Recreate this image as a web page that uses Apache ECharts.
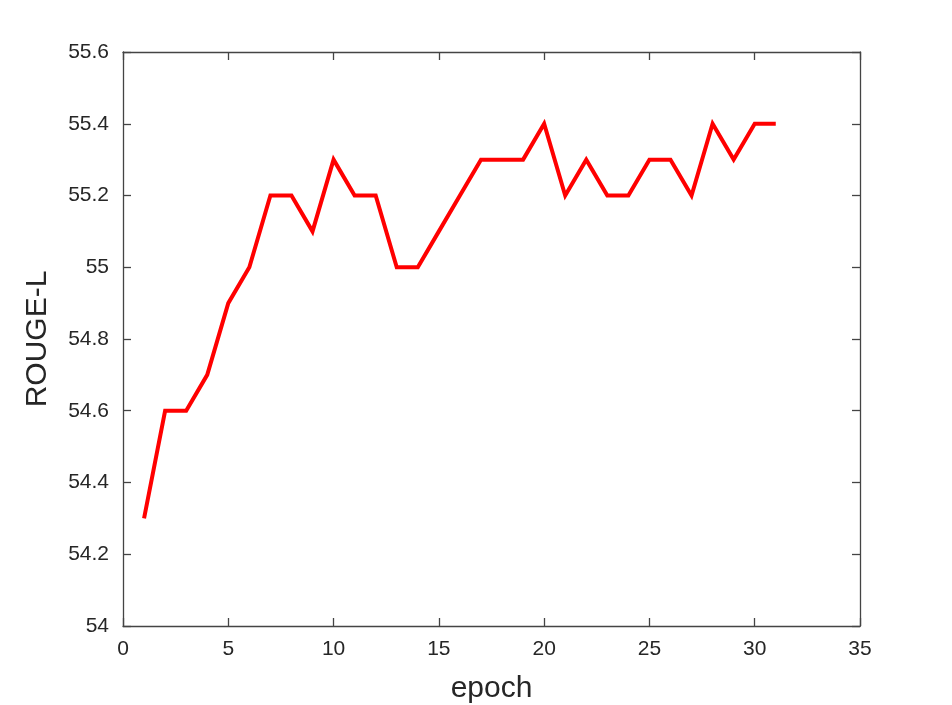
<!DOCTYPE html>
<html><head><meta charset="utf-8">
<script src="https://cdn.jsdelivr.net/npm/echarts@6/dist/echarts.min.js"></script>
<style>html,body{margin:0;padding:0;background:#fff}#c{width:952px;height:705px}</style>
</head><body><div id="c"></div>
<script>
const epochs = [1,2,3,4,5,6,7,8,9,10,11,12,13,14,15,16,17,18,19,20,21,22,23,24,25,26,27,28,29,30,31];
const rougeL = [54.3,54.6,54.6,54.7,54.9,55.0,55.2,55.2,55.1,55.3,55.2,55.2,55.0,55.0,55.1,55.2,55.3,55.3,55.3,55.4,55.2,55.3,55.2,55.2,55.3,55.3,55.2,55.4,55.3,55.4,55.4];
const xTicks = [0,5,10,15,20,25,30,35];
const yTicks = [54,54.2,54.4,54.6,54.8,55,55.2,55.4,55.6];

const chart = echarts.init(document.getElementById('c'), null, {renderer:'canvas'});
const lineC = '#444';
const font = 'Liberation Sans, Arial, sans-serif';
const axX = (show, pos) => ({
  type:'value', min:0, max:35, interval:5, position:pos,
  axisLine:{show:true, onZero:false, lineStyle:{color:lineC, width:1.3}},
  axisTick:{show:true, inside:true, length:8, lineStyle:{color:lineC, width:1.3}},
  axisLabel:{show:show, color:'#262626', fontSize:21, fontFamily:font, margin:13},
  splitLine:{show:false},
  name: show ? 'epoch' : '', nameLocation:'middle', nameGap:48,
  nameTextStyle:{color:'#262626', fontSize:30, fontFamily:font}
});
const axY = (show, pos) => ({
  type:'value', min:54, max:55.6, interval:0.2, position:pos,
  axisLine:{show:true, onZero:false, lineStyle:{color:lineC, width:1.3}},
  axisTick:{show:true, inside:true, length:8, lineStyle:{color:lineC, width:1.3}},
  axisLabel:{show:show, color:'#262626', fontSize:21, fontFamily:font, margin:14,
    formatter: v => String(parseFloat(v.toFixed(1)))},
  splitLine:{show:false},
  name: show ? 'ROUGE-L' : '', nameLocation:'middle', nameGap:70, nameRotate:90,
  nameTextStyle:{color:'#262626', fontSize:30, fontFamily:font}
});
chart.setOption({
  animation:false,
  grid:{left:123, right:92, top:52, bottom:79, containLabel:false, outerBoundsMode:'none'},
  xAxis:[axX(true,'bottom'), axX(false,'top')],
  yAxis:[axY(true,'left'), axY(false,'right')],
  series:[{
    type:'line', xAxisIndex:0, yAxisIndex:0,
    data: epochs.map((e,i)=>[e, rougeL[i]]),
    showSymbol:false, symbol:'none',
    lineStyle:{color:'#ff0000', width:4, join:'miter'}
  }]
});
</script></body></html>
